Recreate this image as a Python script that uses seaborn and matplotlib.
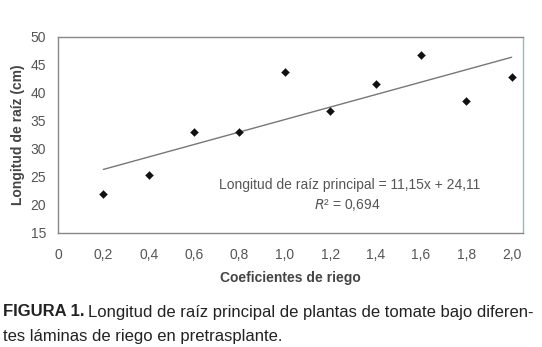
import numpy as np
import pandas as pd
import seaborn as sns
import matplotlib.pyplot as plt

# Values
coef_riego = [0.2, 0.4, 0.6, 0.8, 1.0, 1.2, 1.4, 1.6, 1.8, 2.0]
longitud_raiz = [22.0, 25.3, 33.1, 33.0, 43.8, 36.8, 41.6, 46.7, 38.5, 42.9]
x_ticks = [0, 0.2, 0.4, 0.6, 0.8, 1.0, 1.2, 1.4, 1.6, 1.8, 2.0]
y_ticks = [15, 20, 25, 30, 35, 40, 45, 50]

df = pd.DataFrame({"coef": coef_riego, "raiz": longitud_raiz})

sns.set_style("white")
plt.rcParams["font.family"] = ["Liberation Sans", "DejaVu Sans"]

W, H = 542, 347
fig = plt.figure(figsize=(W / 100, H / 100), dpi=100)
ax = fig.add_axes([58 / W, 1 - 233 / H, (523 - 58) / W, (233 - 37) / H])

sns.regplot(data=df, x="coef", y="raiz", scatter=False, ci=None, ax=ax,
            line_kws={"color": "#777777", "lw": 1.0})
sns.scatterplot(data=df, x="coef", y="raiz", marker="D", s=16, color="#111111",
                edgecolor="#111111", ax=ax, zorder=3)

ax.set_xlim(0, 2.05)
ax.set_ylim(15, 50)
ax.set_xticks(x_ticks)
ax.set_yticks(y_ticks)
ax.set_xticklabels([f"{v:.1f}".replace(".", ",") if v else "0" for v in x_ticks])
ax.set_yticklabels([str(v) for v in y_ticks])
ax.tick_params(axis="both", labelsize=10, colors="#555555", length=3,
               direction="inout", width=0.8)
ax.tick_params(axis="x", pad=9)
ax.tick_params(axis="y", pad=7)
for side in ["left", "bottom", "top"]:
    ax.spines[side].set_color("#888888")
    ax.spines[side].set_linewidth(1.0)
ax.spines["right"].set_color("#9fb8b8")
ax.spines["right"].set_linewidth(1.0)

ax.set_xlabel("Coeficientes de riego", fontsize=10, fontweight="bold",
              color="#444444", labelpad=7)
ax.set_ylabel("Longitud de raíz (cm)", fontsize=10, fontweight="bold",
              color="#444444", labelpad=4)

ax.text(0.628, 0.245, "Longitud de raíz principal = 11,15x + 24,11",
        transform=ax.transAxes, ha="center", va="center", fontsize=10, color="#555555")
ax.text(0.622, 0.143, r"$\it{R}$² = 0,694", transform=ax.transAxes,
        ha="center", va="center", fontsize=10, color="#555555")

# Caption: condensed face is not installed, so shrink the size until line 1 fits
renderer = fig.canvas.get_renderer()
size = 13.0
while True:
    bold = fig.text(3 / W, 1 - 312 / H, "FIGURA 1.", fontsize=size, fontweight="bold",
                    color="#222222", va="center")
    bw = bold.get_window_extent(renderer).width
    rest = fig.text((3 + bw + 0.3 * size) / W, 1 - 312 / H,
                    "Longitud de raíz principal de plantas de tomate bajo diferen-",
                    fontsize=size, color="#222222", va="center")
    right = rest.get_window_extent(renderer).x1
    if right <= 539 or size < 8:
        break
    bold.remove()
    rest.remove()
    size -= 0.25
fig.text(3 / W, 1 - 337 / H, "tes láminas de riego en pretrasplante.",
         fontsize=size, color="#222222", va="center")

fig.savefig("out.png", dpi=100)
